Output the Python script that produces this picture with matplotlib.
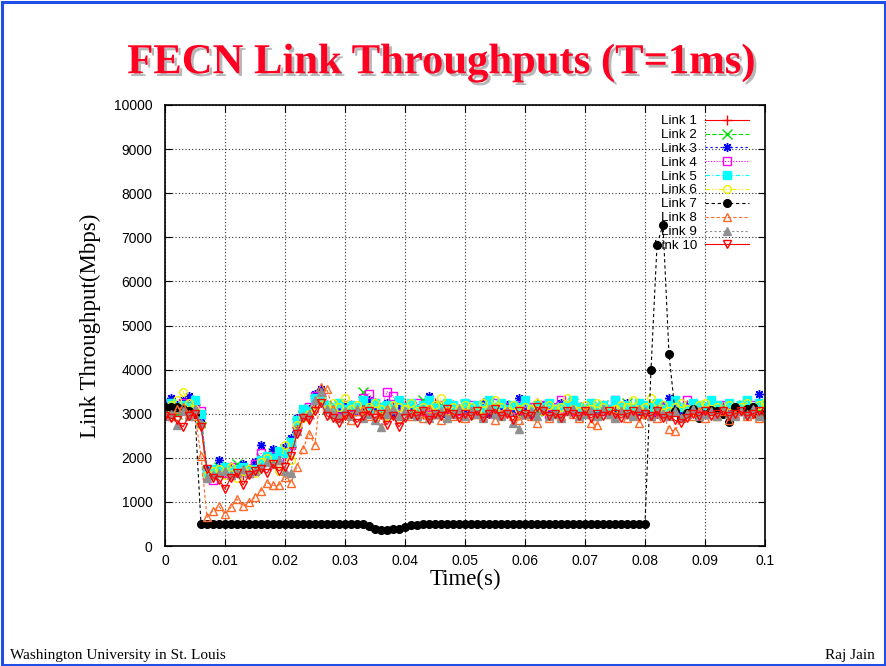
import matplotlib
matplotlib.use("Agg")
import matplotlib.pyplot as plt
import matplotlib.patheffects as pe
from matplotlib.patches import Rectangle
import numpy as np

time_s = [round(i * 0.001, 3) for i in range(101)]

link1 = [3000, 3050, 3150, 3200, 3100, 3050, 2800, 1600, 1700, 1750,
         1650, 1800, 1700, 1600, 1750, 1850, 1900, 2000, 2150, 2100,
         2050, 2250, 2700, 3050, 2900, 3150, 3400, 3200, 3050, 3150,
         3000, 3200, 3100, 3050, 3150, 3250, 3100, 3000, 3150, 3100,
         3200, 3050, 3100, 3000, 3150, 3250, 3100, 3050, 3200, 3100,
         3150, 3000, 3100, 3250, 3150, 3100, 3200, 3050, 3100, 3150,
         3000, 3100, 3250, 3150, 3050, 3100, 3200, 3150, 3100, 3000,
         3050, 3150, 3100, 3200, 3050, 3100, 3150, 3000, 3100, 3200,
         3150, 3050, 3100, 3000, 3150, 3100, 3050, 3200, 3100, 3150,
         3000, 3100, 3050, 3150, 3100, 3000, 3150, 3100, 3050, 3150,
         3100]
link2 = [3100, 3200, 3000, 3150, 3250, 3100, 2900, 1700, 1650, 1800,
         1750, 1700, 1850, 1650, 1800, 1750, 2000, 1950, 2100, 2000,
         2200, 2350, 2800, 2950, 3100, 3300, 3450, 3100, 3000, 3200,
         3150, 3050, 3100, 3500, 3200, 3100, 3000, 3150, 3100, 3250,
         3050, 3150, 3100, 3300, 3000, 3100, 3200, 3150, 3050, 3100,
         3200, 3100, 3000, 3150, 3250, 3100, 3050, 3100, 3200, 3000,
         3100, 3150, 3050, 3200, 3100, 3000, 3150, 3100, 3250, 3050,
         3150, 3100, 3000, 3200, 3100, 3050, 3150, 3250, 3100, 3000,
         3100, 3150, 3200, 3050, 3100, 3000, 3150, 3100, 3050, 3200,
         3100, 3050, 3150, 3000, 3100, 3200, 3050, 3100, 3150, 3050,
         3100]
link3 = [3250, 3350, 3200, 3300, 3400, 3150, 2900, 1750, 1650, 1950,
         1800, 1700, 1750, 1850, 1650, 1900, 2300, 2050, 2200, 2100,
         2250, 2450, 2900, 3000, 3100, 3450, 3550, 3200, 3100, 3050,
         3200, 3100, 3050, 3200, 3300, 3150, 3100, 3250, 3000, 3150,
         3100, 3200, 3050, 3150, 3400, 3100, 3000, 3200, 3150, 3100,
         3050, 3150, 3100, 3250, 3000, 3150, 3100, 3200, 3050, 3350,
         3100, 3000, 3150, 3200, 3100, 3050, 3250, 3100, 3150, 3000,
         3100, 3200, 3050, 3150, 3100, 3000, 3150, 3250, 3100, 3050,
         3150, 3100, 3000, 3200, 3350, 3100, 3050, 3150, 3100, 3000,
         3150, 3100, 3200, 3050, 3100, 3000, 3150, 3200, 3100, 3450,
         3200]
link4 = [3200, 3150, 3100, 3250, 3150, 3200, 3050, 1600, 1500, 1700,
         1650, 1800, 1700, 1750, 1650, 1850, 2100, 1950, 2050, 1950,
         2100, 2300, 2750, 3000, 3150, 3400, 3350, 3150, 3050, 3100,
         3200, 3150, 3050, 3350, 3450, 3250, 3100, 3500, 3400, 3200,
         3150, 3100, 3250, 3050, 3150, 3000, 3200, 3100, 3150, 3050,
         3100, 3200, 3050, 3150, 3100, 3250, 3000, 3150, 3100, 3200,
         3050, 3150, 3100, 3200, 3000, 3150, 3300, 3100, 3050, 3150,
         3100, 3200, 3150, 3050, 3100, 3300, 3150, 3100, 3000, 3150,
         3100, 3050, 3200, 3150, 3100, 3050, 3150, 3300, 3100, 3000,
         3150, 3100, 3050, 3200, 3150, 3100, 3050, 3150, 3200, 3100,
         3150]
link5 = [3100, 3250, 3150, 3200, 3150, 3300, 3000, 1650, 1750, 1700,
         1800, 1700, 1750, 1800, 1700, 1750, 1950, 2050, 2000, 2150,
         2100, 2350, 2850, 3100, 3050, 3350, 3300, 3200, 3150, 3250,
         3100, 3200, 3150, 3300, 3100, 3250, 3150, 3200, 3100, 3300,
         3150, 3250, 3100, 3200, 3300, 3150, 3100, 3250, 3200, 3100,
         3250, 3150, 3200, 3100, 3300, 3150, 3250, 3100, 3200, 3150,
         3300, 3100, 3200, 3150, 3250, 3100, 3150, 3200, 3300, 3150,
         3100, 3250, 3150, 3200, 3100, 3300, 3150, 3200, 3100, 3250,
         3200, 3150, 3250, 3100, 3200, 3300, 3150, 3100, 3250, 3200,
         3150, 3300, 3200, 3100, 3250, 3150, 3200, 3300, 3150, 3250,
         3200]
link6 = [3050, 3200, 3300, 3500, 3250, 3100, 2750, 1600, 1700, 1750,
         1600, 1800, 1550, 1700, 1750, 1650, 1900, 2000, 1850, 1700,
         2300, 1950, 2750, 2900, 3000, 3200, 3350, 3100, 3250, 3150,
         3350, 3100, 3200, 3050, 3150, 3250, 3100, 2950, 3200, 3150,
         3100, 3250, 3050, 3150, 3100, 3200, 3350, 3050, 3150, 3100,
         3200, 3150, 3050, 3250, 3100, 3300, 3150, 3050, 3200, 3100,
         3150, 3100, 3250, 3050, 3200, 3100, 3150, 3350, 3100, 3050,
         3200, 3100, 3250, 3150, 3050, 3100, 3200, 3150, 3300, 3100,
         3150, 3350, 3100, 3200, 3050, 3150, 3250, 3100, 3050, 3200,
         3250, 3100, 3150, 3050, 3200, 3100, 3150, 3250, 3100, 3200,
         3250]
link7 = [3150, 3150, 3150, 3100, 3050, 3000, 500, 500, 500, 500,
         500, 500, 500, 500, 500, 500, 500, 500, 500, 500,
         500, 500, 500, 500, 500, 500, 500, 500, 500, 500,
         500, 500, 500, 500, 460, 380, 360, 360, 375, 390,
         440, 470, 485, 495, 500, 500, 500, 500, 500, 500,
         500, 500, 500, 500, 500, 500, 500, 500, 500, 500,
         500, 500, 500, 500, 500, 500, 500, 500, 500, 500,
         500, 500, 500, 500, 500, 500, 500, 500, 500, 500,
         500, 4000, 6820, 7290, 4350, 3050, 2900, 3010, 3100, 2900,
         3000, 3080, 3070, 3000, 2820, 3150, 3050, 3100, 3150, 2950,
         3000]
link8 = [3000, 2950, 3100, 3150, 3000, 2950, 2050, 650, 800, 900,
         720, 880, 1060, 900, 1000, 1100, 1250, 1430, 1380, 1380,
         1570, 1430, 1800, 2200, 2550, 2300, 3600, 3550, 3100, 2900,
         3000, 2850, 3050, 3100, 2950, 3000, 2850, 3100, 3000, 2900,
         3050, 2950, 3000, 2900, 3100, 3000, 2850, 3050, 2950, 3000,
         2900, 3050, 3000, 2950, 3100, 2850, 3000, 3050, 2950, 2850,
         3000, 2950, 2800, 3100, 2900, 3000, 2950, 3050, 3000, 2900,
         3050, 2800, 2750, 3100, 3000, 2950, 3050, 2900, 3000, 2800,
         3000, 2950, 2900, 3000, 2650, 2600, 2900, 3000, 2950, 3050,
         2900, 3000, 2950, 3050, 2850, 3000, 3050, 2950, 3000, 2900,
         3000]
link9 = [2950, 3000, 2750, 3050, 2950, 3100, 2800, 1550, 1600, 1650,
         1700, 1600, 1650, 1750, 1650, 1700, 1800, 1900, 1850, 1950,
         1700, 1650, 2600, 2950, 3000, 3300, 3500, 3100, 3000, 2900,
         3050, 2950, 3100, 2900, 3000, 2850, 2700, 3000, 3100, 2950,
         3050, 3000, 2950, 3100, 2900, 3000, 3050, 2900, 3000, 3100,
         2950, 3050, 3000, 2900, 3100, 3000, 2950, 3050, 2800, 2650,
         3000, 3050, 2950, 3100, 2950, 3000, 2900, 3050, 3100, 2950,
         3000, 3050, 2950, 3100, 3000, 2900, 3050, 3000, 2950, 3100,
         3050, 2950, 3100, 3000, 2950, 3050, 2900, 3000, 3100, 2950,
         3000, 3050, 2950, 3100, 3000, 2950, 3050, 3000, 3100, 2950,
         3000]
link10 = [2950, 2900, 2850, 2700, 2950, 3000, 2700, 1750, 1550, 1500,
          1300, 1550, 1650, 1380, 1600, 1700, 1750, 1650, 1850, 1700,
          1800, 2050, 2550, 2900, 2850, 3050, 3250, 2950, 2900, 2800,
          2950, 3000, 2800, 2950, 3050, 2900, 3000, 2750, 2950, 2700,
          2900, 3000, 2950, 3050, 2850, 3000, 2950, 3100, 3000, 2900,
          3000, 2950, 3050, 2900, 3000, 3100, 2950, 3000, 2850, 3050,
          3000, 2950, 3150, 3050, 2950, 3000, 2900, 3050, 3000, 2950,
          3050, 2900, 3000, 2950, 3050, 3000, 2900, 3000, 3050, 2950,
          3000, 2950, 3050, 2900, 2950, 2850, 2800, 2900, 3000, 2950,
          3050, 2950, 3000, 3050, 2950, 3000, 3050, 2950, 3000, 3050,
          3000]

series = [link1, link2, link3, link4, link5, link6, link7, link8, link9, link10]
labels = ["Link 1", "Link 2", "Link 3", "Link 4", "Link 5",
          "Link 6", "Link 7", "Link 8", "Link 9", "Link 10"]
colors = ["#ff0000", "#00e000", "#0000ff", "#ff00ff", "#00ffff",
          "#f0f000", "#000000", "#ff6a2a", "#909090", "#ff0000"]
markers = ["+", "x", (8, 2, 0), "s", "s", "o", "o", "^", "^", "v"]
filled = [True, True, True, False, True, False, True, False, True, False]
dashes = [None, (4, 2), (2, 2.5), (1, 1.5), (4, 2, 1, 2), (4, 2, 1, 2, 1, 2),
          (3, 2.5), (3, 2), (2, 2), None]
xticks = [0, 0.01, 0.02, 0.03, 0.04, 0.05, 0.06, 0.07, 0.08, 0.09, 0.1]
xticklabels = ["0", "0.01", "0.02", "0.03", "0.04", "0.05", "0.06", "0.07", "0.08", "0.09", "0.1"]
yticks = list(range(0, 10001, 1000))

W, H = 886, 666
fig = plt.figure(figsize=(W / 100, H / 100), dpi=100)
fig.patch.set_facecolor("white")

ax = fig.add_axes([165 / W, (H - 546) / H, 600 / W, 441 / H])

for y, lab, c, m, f, d in zip(series, labels, colors, markers, filled, dashes):
    kw = dict(color=c, marker=m, markersize=5.5, linewidth=0.8, markeredgewidth=1.0, label=lab)
    kw["markerfacecolor"] = c if f else "none"
    if m in ("+", "x") or m == (8, 2, 0):
        kw["markersize"] = 6.5
    line, = ax.plot(time_s, y, **kw)
    if d is not None:
        line.set_dashes(d)

ax.set_xlim(0, 0.1)
ax.set_ylim(0, 10000)
ax.set_xticks(xticks)
ax.set_xticklabels(xticklabels)
ax.set_yticks(yticks)
ax.tick_params(direction="in", length=5, width=0.8, top=True, right=True,
               labelsize=10, colors="black")
ax.tick_params(axis="x", pad=6)
ax.tick_params(axis="y", pad=9)
for lab in ax.get_xticklabels() + ax.get_yticklabels():
    lab.set_fontfamily("Liberation Sans")
ax.grid(True, color="#333333", linestyle=(0, (1, 2)), linewidth=0.8)
for sp in ax.spines.values():
    sp.set_linewidth(1.2)
    sp.set_color("black")

leg = ax.legend(loc="upper right", bbox_to_anchor=(0.978, 0.983), frameon=False,
                markerfirst=False, numpoints=1, handlelength=3.3, handletextpad=0.6,
                labelspacing=0.14, borderpad=0.2, borderaxespad=0,
                handleheight=0.6,
                prop={"family": "Liberation Sans", "size": 9.6})

fig.text(90 / W, 1 - 326 / H, "Link Throughput(Mbps)", rotation=90,
         ha="center", va="center", fontsize=16.5, family="Liberation Serif")
fig.text(465 / W, 1 - 579 / H, "Time(s)", ha="center", va="center",
         fontsize=16.5, family="Liberation Serif")

fig.text(441 / W, 1 - 63 / H, "FECN Link Throughputs (T=1ms)", ha="center", va="center",
         fontsize=30.7, fontweight="bold", family="Liberation Serif", color="#ff0022",
         path_effects=[pe.withSimplePatchShadow(offset=(2, -2), shadow_rgbFace="#888888", alpha=0.6)])

fig.text(10 / W, 1 - 655 / H, "Washington University in St. Louis", ha="left", va="center",
         fontsize=11, family="Liberation Serif")
fig.text(875 / W, 1 - 655 / H, "Raj Jain", ha="right", va="center",
         fontsize=11, family="Liberation Serif")

fig.patches.append(Rectangle((1.5 / W, 1.5 / H), (W - 3) / W, (H - 3) / H,
                             transform=fig.transFigure, fill=False,
                             edgecolor="#1f4fe6", linewidth=2.2))

fig.savefig("out.png", dpi=100)
